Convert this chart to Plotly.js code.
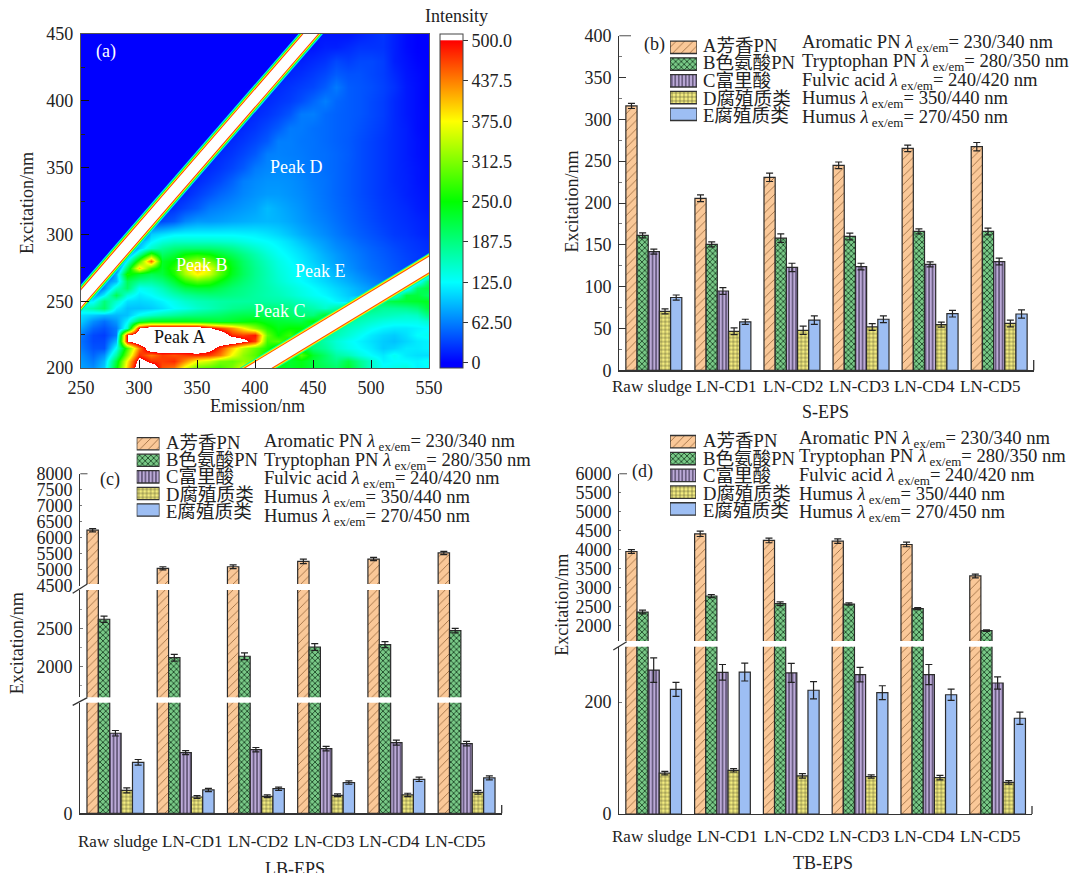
<!DOCTYPE html>
<html><head><meta charset="utf-8">
<script src="https://cdn.plot.ly/plotly-3.0.1.min.js"></script>
<style>html,body{margin:0;padding:0;background:#fff}#chart{width:1072px;height:873px}</style>
</head><body><div id="chart"></div>
<script>
// ---------- data: shared ----------
const categories = ['Raw sludge','LN-CD1','LN-CD2','LN-CD3','LN-CD4','LN-CD5'];
const legendCn = ['A芳香PN','B色氨酸PN','C富里酸','D腐殖质类','E腐殖质类'];
const legendEn = ['Aromatic PN','Tryptophan PN','Fulvic acid','Humus','Humus'];
const legendWave = ['230/340','280/350','240/420','350/440','270/450'];

// ---------- data: (b) S-EPS ----------
const sA = [316,205.6,230.7,245,265.3,267.3];
const sB = [161.4,150.6,158,160,166,166];
const sC = [141.8,94.8,123,124,126.7,130];
const sD = [70.5,46.6,47.8,51.8,54.6,56];
const sE = [87,58,60,61,67.7,67.3];
const sAe = [3,4,5,4,4,5], sBe = [3,3,5,4,3,4], sCe = [3,4,5,4,3,4], sDe = [3,4,5,4,3,4], sEe = [3,3,5,4,4,5];

// ---------- data: (c) LB-EPS ----------
const lA = [6240,5050,5100,5270,5340,5530];
const lB = [2624,2118,2137,2259,2290,2474];
const lC = [579,439,460,468,511,504];
const lD = [166,118,123,130,133,152];
const lE = [369,169,178,222,246,256];
const lAe = [50,50,60,70,50,50], lBe = [40,45,45,45,40,30], lCe = [20,14,16,16,18,16], lDe = [18,10,10,10,12,14], lEe = [20,12,12,12,16,14];

// ---------- data: (d) TB-EPS ----------
const tA = [3947,4413,4238,4219,4132,3302];
const tB = [2349,2772,2570,2560,2440,1860];
const tC = [257,253,252,249,249,234];
const tD = [73,78,68,67,65,56.5];
const tE = [222.5,253.5,221,216.6,213,171];
const tAe = [50,70,60,60,60,50], tBe = [50,40,50,30,25,20], tCe = [22,14,17,13,18,11], tDe = [3,3,4,3,4,3], tEe = [12.5,16,15.5,12.5,10,11];

// ---------- data: (a) EEM ----------
const emission = [250,260,270,280,290,300,310,320,330,340,350,360,370,380,390,400,410,420,430,440,450,460,470,480,490,500,510,520,530,540,550];
const excitation = [200,205,210,215,220,225,230,235,240,245,250,255,260,265,270,275,280,285,290,295,300,310,320,330,340,350,360,370,380,390,400,410,420,430,440,450];
const intensity = [
[80,70,100,240,400,560,560,460,440,360,300,290,280,310,360,300,260,240,230,240,220,210,200,230,190,150,130,135,140,120,125],
[75,60,90,220,380,530,480,470,480,430,370,350,310,300,320,310,270,240,230,240,220,200,185,215,180,150,120,125,125,120,130],
[70,50,70,170,320,480,440,470,460,470,480,470,440,370,320,290,250,240,230,290,230,200,170,160,140,125,115,130,115,110,110],
[60,40,40,130,280,440,560,560,560,560,560,530,470,400,340,300,260,220,240,240,190,175,150,135,125,115,100,105,115,115,120],
[55,35,35,90,500,560,560,560,560,560,560,560,560,560,520,470,280,290,250,210,190,165,145,130,120,110,100,95,105,115,120],
[60,35,30,60,500,560,560,560,560,560,560,560,560,480,470,490,300,250,280,230,200,175,160,145,130,115,105,100,110,125,130],
[80,50,40,60,150,500,560,560,560,560,560,510,470,430,380,320,265,240,250,250,220,190,170,155,145,130,120,115,115,120,125],
[100,70,55,75,120,215,240,240,240,240,235,230,225,230,240,250,235,225,220,215,250,215,185,170,160,150,140,135,135,135,150],
[110,100,90,90,95,130,150,165,175,185,190,195,200,210,215,215,210,205,200,190,190,230,220,190,175,165,160,155,150,155,190],
[150,170,200,120,95,95,100,110,125,135,150,160,170,180,185,190,190,190,185,175,165,150,170,200,205,190,175,175,180,190,225],
[120,120,190,150,110,105,110,120,135,150,160,165,170,172,172,172,170,168,165,155,145,135,120,110,150,200,210,220,225,230,235],
[60,70,120,210,140,115,125,140,160,175,185,190,190,185,180,172,165,160,150,140,130,122,112,100,90,80,70,120,220,220,200],
[0,20,70,150,200,130,140,160,190,215,225,225,210,195,185,175,165,155,145,135,125,115,105,95,85,75,60,50,100,200,220],
[0,0,60,90,210,180,175,190,225,270,295,280,245,215,195,178,162,148,135,125,115,105,95,85,75,65,55,46,40,100,200],
[0,0,0,90,260,230,210,220,260,330,380,350,290,235,205,180,162,145,132,122,112,100,88,78,68,58,50,44,38,34,100],
[0,0,0,40,200,400,280,230,270,350,410,370,300,240,205,180,160,142,130,118,108,96,82,72,62,54,48,42,36,30,28],
[0,0,0,0,130,280,450,230,250,300,330,310,270,230,200,175,155,138,125,115,102,90,78,68,60,52,46,40,34,28,24],
[0,0,0,0,60,170,280,200,220,250,260,250,225,205,185,165,145,130,120,110,98,85,75,65,58,50,44,38,32,28,24],
[0,0,0,0,0,100,150,175,190,195,195,195,190,180,165,150,135,125,115,105,92,80,70,62,55,48,42,36,30,26,22],
[0,0,0,0,0,80,120,140,150,150,150,150,148,145,138,130,125,118,108,96,84,75,65,58,50,44,38,32,28,24,20],
[0,0,0,0,0,0,100,110,120,122,122,122,122,122,120,118,112,105,95,85,76,68,60,52,46,40,34,28,25,20,16],
[0,0,0,0,0,0,30,35,45,65,75,75,78,82,85,88,90,88,82,75,68,62,55,48,42,36,30,26,22,18,14],
[0,0,0,0,0,0,0,20,25,35,45,60,65,70,75,80,92,85,78,72,64,58,52,46,40,34,28,24,20,14,10],
[0,0,0,0,0,0,0,0,15,20,30,40,50,58,66,72,76,76,72,68,62,56,50,44,38,32,26,22,16,12,8],
[0,0,0,0,0,0,0,0,0,15,20,28,36,48,62,68,72,72,70,66,60,56,50,44,38,32,26,20,16,10,6],
[0,0,0,0,0,0,0,0,0,0,15,20,26,34,44,60,66,68,66,62,58,54,50,44,38,32,26,20,15,10,5],
[0,0,0,0,0,0,0,0,0,0,0,15,20,26,34,44,62,64,62,60,56,54,50,45,38,32,26,20,14,8,4],
[0,0,0,0,0,0,0,0,0,0,0,0,15,20,26,34,44,62,62,58,56,52,48,44,38,32,26,20,14,8,3],
[0,0,0,0,0,0,0,0,0,0,0,0,0,15,20,26,35,45,60,60,55,52,48,45,40,34,28,20,14,6,2],
[0,0,0,0,0,0,0,0,0,0,0,0,0,0,15,20,25,32,42,60,62,52,48,45,42,36,30,20,12,6,2],
[0,0,0,0,0,0,0,0,0,0,0,0,0,0,0,15,20,25,30,38,50,62,50,45,42,36,30,20,12,6,0],
[0,0,0,0,0,0,0,0,0,0,0,0,0,0,0,0,15,20,25,30,35,45,60,45,42,38,32,24,12,6,0],
[0,0,0,0,0,0,0,0,0,0,0,0,0,0,0,0,0,15,18,22,28,35,45,40,40,35,30,20,10,5,0],
[0,0,0,0,0,0,0,0,0,0,0,0,0,0,0,0,0,0,15,15,20,25,35,30,35,35,30,15,8,2,0],
[0,0,0,0,0,0,0,0,0,0,0,0,0,0,0,0,0,0,0,10,10,15,15,20,25,25,25,15,5,0,0],
[0,0,0,0,0,0,0,0,0,0,0,0,0,0,0,0,0,0,0,0,10,10,10,10,15,20,25,15,5,0,0]
];
// scatter bands of the EEM (first and second order)
const band1Em = [230,470], band1Ex = [232,472];
const band2Em = [380,570], band2Ex = [187.9,288];

const colorbarVals = [0,62.5,125,187.5,250,312.5,375,437.5,500];
const colorbarText = ['0','62.50','125.0','187.5','250.0','312.5','375.0','437.5','500.0'];

// ---------- styles ----------
const W = 1072, H = 873;
const FONT = '"Liberation Serif","Times New Roman","Noto Sans CJK SC",serif';
const INK = '#222';
const fills = [
  {bg:'#FAC898', fg:'#9A6A3E', shape:'/', size:6, sol:0.14},
  {bg:'#79C987', fg:'#1F4A2A', shape:'x', size:4, sol:0.4},
  {bg:'#BCAAD8', fg:'#3C3350', shape:'|', size:3.5, sol:0.32},
  {bg:'#F3EC80', fg:'#3A3A20', shape:'+', size:4, sol:0.22},
  {bg:'#9DBEF3', fg:'#9DBEF3', shape:'', size:4, sol:0.1}
];
const px = x => x / W;
const py = y => 1 - y / H;
const dom = (a, b) => [a / W, b / W];
const vdom = (top, bottom) => [1 - bottom / H, 1 - top / H];

const annotations = [], shapes = [], traces = [];
function ann(x, y, text, o) {
  annotations.push(Object.assign({xref:'paper', yref:'paper', x:px(x), y:py(y), text, showarrow:false,
    xanchor:'center', yanchor:'middle', font:{family:FONT, size:18, color:INK}}, o || {}));
}
function seg(x0, y0, x1, y1, color, width) {
  shapes.push({type:'line', xref:'paper', yref:'paper', x0:px(x0), y0:py(y0), x1:px(x1), y1:py(y1),
    line:{color:color || '#333', width:width || 1.3}});
}
function addBars(series, errors, xa, ya) {
  series.forEach((vals, i) => {
    const f = fills[i];
    traces.push({type:'bar', name:legendCn[i], x:categories, y:vals, xaxis:xa, yaxis:ya, showlegend:false,
      hoverinfo:'skip',
      error_y:{type:'data', array:errors[i], visible:true, color:'#222', thickness:1.2, width:3.5},
      marker:{color:f.bg, line:{color:'#2b2b2b', width:1.2},
        pattern:{shape:f.shape, bgcolor:f.bg, fgcolor:f.fg, size:f.size, solidity:f.sol}}});
  });
}
function addSwatches(xa, ya) {
  fills.forEach((f, i) => {
    traces.push({type:'bar', orientation:'h', name:legendCn[i], x:[1], y:[4 - i], xaxis:xa, yaxis:ya, showlegend:false,
      hoverinfo:'skip', width:0.74, offset:-0.37,
      marker:{color:f.bg, line:{color:'#333', width:1.3},
        pattern:{shape:f.shape, bgcolor:f.bg, fgcolor:f.fg, size:f.size, solidity:f.sol}}});
  });
}
const legendFont = {family:FONT, size:18.6, color:INK};
function legendText(xCn, ysCn, xEn, ysEn) {
  legendCn.forEach((t, i) => ann(xCn - 2, ysCn[i], t, {xanchor:'left', font:legendFont}));
  legendEn.forEach((t, i) => ann(xEn - 2, ysEn[i],
    t + ' <i>λ</i><sub> ex/em</sub>= ' + legendWave[i] + ' nm', {xanchor:'left', font:legendFont}));
}
function catLabels(xs, y) { categories.forEach((c, i) => ann(xs[i], y, c, {font:{family:FONT, size:17, color:INK}})); }

// ---------- (a) heat map ----------
const zMin = -8.2, zMax = 510.4;
const frac = v => (v - zMin) / (zMax - zMin);
traces.push({type:'heatmap', x:emission, y:excitation, z:intensity, zmin:zMin, zmax:zMax, zsmooth:'best',
  xaxis:'x', yaxis:'y', hoverinfo:'skip',
  colorscale:[[0,'rgb(0,0,255)'],[frac(0),'rgb(0,0,255)'],[frac(125),'rgb(0,255,255)'],[frac(250),'rgb(0,255,0)'],
    [frac(375),'rgb(255,255,0)'],[frac(500),'rgb(255,0,0)'],[frac(501),'rgb(255,255,255)'],[1,'rgb(255,255,255)']],
  colorbar:{x:px(440), xanchor:'left', y:py(34), yanchor:'top', lenmode:'pixels', len:334, thickness:23,
    thicknessmode:'pixels', xpad:0, ypad:0, outlinecolor:'#444', outlinewidth:1, ticks:'outside', ticklen:5,
    tickcolor:'#333', tickvals:colorbarVals, ticktext:colorbarText, tickfont:{family:FONT, size:18, color:INK}}});
[['#00E8FF',18.5],['#00FF40',16.5],['#FFFF00',14.5],['#FF3000',12.8],['#FFFFFF',11]].forEach(l => {
  traces.push({type:'scatter', mode:'lines', x:band1Em, y:band1Ex, xaxis:'x', yaxis:'y', showlegend:false, hoverinfo:'skip',
    line:{color:l[0], width:l[1]}});
});
[['#00FFA0',19.5],['#FFF000',17.5],['#FF5000',15.5],['#FFFFFF',13.4]].forEach(l => {
  traces.push({type:'scatter', mode:'lines', x:band2Em, y:band2Ex, xaxis:'x', yaxis:'y', showlegend:false, hoverinfo:'skip',
    line:{color:l[0], width:l[1]}});
});
ann(456, 16, 'Intensity');
ann(257, 406, 'Emission/nm');
ann(27, 203, 'Excitation/nm', {textangle:-90});
ann(105.7, 51.7, '(a)', {font:{family:FONT, size:18, color:'#fff'}});
ann(180, 337, 'Peak A', {font:{family:FONT, size:18, color:'#111'}});
ann(201.7, 265, 'Peak B', {font:{family:FONT, size:18, color:'#fff'}});
ann(280, 310.7, 'Peak C', {font:{family:FONT, size:18, color:'#fff'}});
ann(296, 167.3, 'Peak D', {font:{family:FONT, size:18, color:'#fff'}});
ann(320, 270.7, 'Peak E', {font:{family:FONT, size:18, color:'#fff'}});

// ---------- (b) S-EPS ----------
addBars([sA,sB,sC,sD,sE],[sAe,sBe,sCe,sDe,sEe],'x2','y2');
addSwatches('x5','y8');
legendText(703,[45,62.7,80.7,98.3,116],801.7,[43.3,61.7,80.7,99.3,117.7]);
catLabels([651.7,726,793,858.7,924.7,990],386.7);
ann(825,412.3,'S-EPS');
ann(571.7,201.7,'Excitation/nm',{textangle:-90});
ann(654,44,'(b)');
seg(619.3,35.7,631,35.7,'#777');
seg(1033.7,370.3,1033.7,360,'#333');

// ---------- (c) LB-EPS ----------
[['x3','y3'],['x3','y4'],['x3','y5']].forEach(p => addBars([lA,lB,lC,lD,lE],[lAe,lBe,lCe,lDe,lEe],p[0],p[1]));
addSwatches('x6','y9');
legendText(166,[442.7,459.3,476.7,494,511.7],264,[441.7,460.7,479.3,497.7,516.7]);
catLabels([117.5,192,257.5,324,389,455],841.7);
ann(295,869,'LB-EPS');
ann(17.3,643,'Excitation/nm',{textangle:-90});
ann(110,479,'(c)');
shapes.push({type:'rect', xref:'paper', yref:'paper', x0:px(81), x1:px(503), y0:py(590), y1:py(584),
  fillcolor:'#fff', line:{width:0}});
seg(72.7,593.3,87.3,584); seg(72.7,705.3,87.3,697.7);
seg(80.3,473.7,87.5,473.7,'#777');
seg(501.7,813.3,501.7,805,'#333');

// ---------- (d) TB-EPS ----------
[['x4','y6'],['x4','y7']].forEach(p => addBars([tA,tB,tC,tD,tE],[tAe,tBe,tCe,tDe,tEe],p[0],p[1]));
addSwatches('x7','y10');
legendText(702.7,[440,458.3,476,493.3,510.7],799,[439,457.3,476,495,513.3]);
catLabels([652,727,793.7,858.7,924,990],836.7);
ann(823,863,'TB-EPS');
ann(561.7,605,'Excitation/nm',{textangle:-90});
ann(642,471,'(d)');
seg(613.3,650,626.7,641.7);
seg(619.3,473.7,627,473.7,'#777');
seg(1032,814,1032,806,'#333');

// ---------- axes ----------
const tickFont = {family:FONT, size:18, color:INK};
const hidden = {visible:false, fixedrange:true};
function catAxis(l, r, anchor) {
  return {domain:dom(l, r), anchor, type:'category', categoryorder:'array', categoryarray:categories, range:[-0.5,5.5],
    showticklabels:false, ticks:'', showgrid:false, zeroline:false, showline:true, linecolor:'#333', linewidth:1.2};
}
function valAxis(top, bottom, range, anchor, extra) {
  return Object.assign({domain:vdom(top, bottom), anchor, range, showgrid:false, zeroline:false, showline:true,
    linecolor:'#333', linewidth:1.2, ticks:'inside', ticklen:3, tickcolor:'#777', tickfont:tickFont, ticklabelstandoff:3}, extra || {});
}
const layout = {
  width:W, height:H, margin:{l:0,r:0,t:0,b:0}, paper_bgcolor:'#fff', plot_bgcolor:'rgba(0,0,0,0)',
  barmode:'group', bargap:0.19, bargroupgap:0, showlegend:false, font:{family:FONT, size:18, color:INK},
  annotations, shapes,
  xaxis:{domain:dom(81,429), anchor:'y', range:[250,550], tickvals:[250,300,350,400,450,500,550], ticks:'inside', ticklen:8,
    tickcolor:'#111', tickfont:tickFont, showgrid:false, zeroline:false, showline:true, mirror:true, linecolor:'#555', linewidth:1.2, ticklabelstandoff:3},
  yaxis:{domain:vdom(34,368), anchor:'x', range:[200,450], tickvals:[200,250,300,350,400,450], ticks:'inside', ticklen:8,
    tickcolor:'#111', tickfont:tickFont, showgrid:false, zeroline:false, showline:true, mirror:true, linecolor:'#555', linewidth:1.2, ticklabelstandoff:3,
    minor:{dtick:25, ticks:'inside', ticklen:4, tickcolor:'#222'}},
  xaxis2:catAxis(619.3,1033.7,'y2'),
  yaxis2:valAxis(35.7,370.3,[0,400],'x2',{dtick:50, ticklen:7, tickcolor:'#333', minor:{dtick:25, ticks:'inside', ticklen:3, tickcolor:'#777'}}),
  xaxis3:catAxis(80.3,501.7,'y3'),
  yaxis3:valAxis(702.7,813.3,[0,800],'x3',{tickvals:[0], ticktext:['0'], ticks:''}),
  yaxis4:valAxis(590,697.3,[1597,3009],'x3',{tickvals:[2000,2500], minor:{dtick:250, ticks:'inside', ticklen:2, tickcolor:'#999'}}),
  yaxis5:valAxis(473.7,586,[4500,8000],'x3',{tickvals:[4500,5000,5500,6000,6500,7000,7500,8000], ticklen:2}),
  xaxis4:catAxis(619.3,1032,'y6'),
  yaxis6:valAxis(646.7,814,[0,298.8],'x4',{tickvals:[0,200], ticklen:3}),
  yaxis7:valAxis(473.7,641,[1585,6000],'x4',{tickvals:[2000,2500,3000,3500,4000,4500,5000,5500,6000], ticklen:2}),
  xaxis5:Object.assign({domain:dom(670,697), anchor:'y8', range:[0,1]}, hidden),
  yaxis8:Object.assign({domain:vdom(38.9,122.7), anchor:'x5', range:[-0.5,4.5]}, hidden),
  xaxis6:Object.assign({domain:dom(136.7,159.5), anchor:'y9', range:[0,1]}, hidden),
  yaxis9:Object.assign({domain:vdom(435.4,518.3), anchor:'x6', range:[-0.5,4.5]}, hidden),
  xaxis7:Object.assign({domain:dom(670,696), anchor:'y10', range:[0,1]}, hidden),
  yaxis10:Object.assign({domain:vdom(433.3,517.4), anchor:'x7', range:[-0.5,4.5]}, hidden)
};
Plotly.newPlot('chart', traces, layout, {displayModeBar:false, staticPlot:true});
</script>
</body></html>
